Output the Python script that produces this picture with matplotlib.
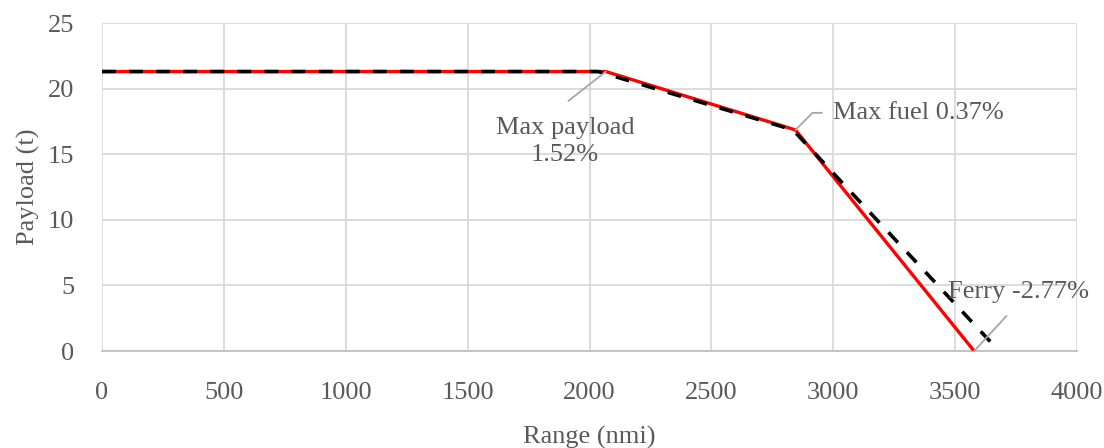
import matplotlib
matplotlib.use("Agg")
import matplotlib.pyplot as plt

plt.rcParams['font.family'] = ['Liberation Serif', 'DejaVu Serif']
plt.rcParams['lines.scale_dashes'] = False

# Data
range_new = [0, 2067, 2845, 3578]
payload_new = [21.3, 21.3, 16.85, 0]
range_ref = [0, 2036, 2835, 3680]
payload_ref = [21.3, 21.3, 16.85, 0]

x_ticks = [0, 500, 1000, 1500, 2000, 2500, 3000, 3500, 4000]
y_ticks = [0, 5, 10, 15, 20, 25]

ann_labels = ["Max payload\n1.52%", "Max fuel 0.37%", "Ferry -2.77%"]

TXT = '#595959'
GRID = '#D9D9D9'
FS = 19

fig = plt.figure(figsize=(11.04, 4.48), dpi=100)
ax = fig.add_axes([102/1104, 1-351/448, 975/1104, 328/448])

ax.plot(range_new, payload_new, color='#FF0000', lw=2.4, solid_capstyle='butt', zorder=3)
ax.plot(range_ref, payload_ref, color='black', lw=2.6, linestyle=(0, (10, 9.5)),
        dash_capstyle='butt', zorder=4)

ax.set_xlim(0, 4000)
ax.set_ylim(0, 25)
ax.set_xticks(x_ticks)
ax.set_yticks(y_ticks)
ax.grid(True, color=GRID, lw=1.3)
ax.set_axisbelow(True)
for s in ['top', 'right', 'left']:
    ax.spines[s].set_visible(False)
ax.spines['bottom'].set_color('#BFBFBF')
ax.spines['bottom'].set_linewidth(1.3)
ax.tick_params(axis='both', length=0, labelsize=FS, colors=TXT)
ax.tick_params(axis='x', pad=22)
ax.tick_params(axis='y', pad=20)

ax.set_xlabel('Range (nmi)', fontsize=FS, color=TXT, labelpad=16)
ax.set_ylabel('Payload (t)', fontsize=FS, color=TXT, labelpad=6)

lead = dict(arrowstyle='-', color='#A6A6A6', lw=1.3, shrinkB=0)

# Max payload
ax.annotate(ann_labels[0], xy=(range_new[1], payload_new[1]), xytext=(1900, 16.0),
            ha='center', va='center', fontsize=FS, color=TXT, linespacing=1.3,
            arrowprops=dict(lead, relpos=(0.38, 1.0), shrinkA=15), zorder=5)
# Max fuel
ax.annotate(ann_labels[1], xy=(range_new[2], payload_new[2]), xytext=(2999, 18.15),
            ha='left', va='center', fontsize=FS, color=TXT,
            arrowprops=dict(lead, relpos=(0.0, 0.5), shrinkA=6,
                            connectionstyle='angle,angleA=0,angleB=45,rad=0'), zorder=5)
# Ferry
ax.annotate(ann_labels[2], xy=(range_new[3], payload_new[3]), xytext=(3471, 4.5),
            ha='left', va='center', fontsize=FS, color=TXT,
            arrowprops=dict(lead, relpos=(0.5, 0.0), shrinkA=10), zorder=5)

fig.savefig('out.png', dpi=100)
